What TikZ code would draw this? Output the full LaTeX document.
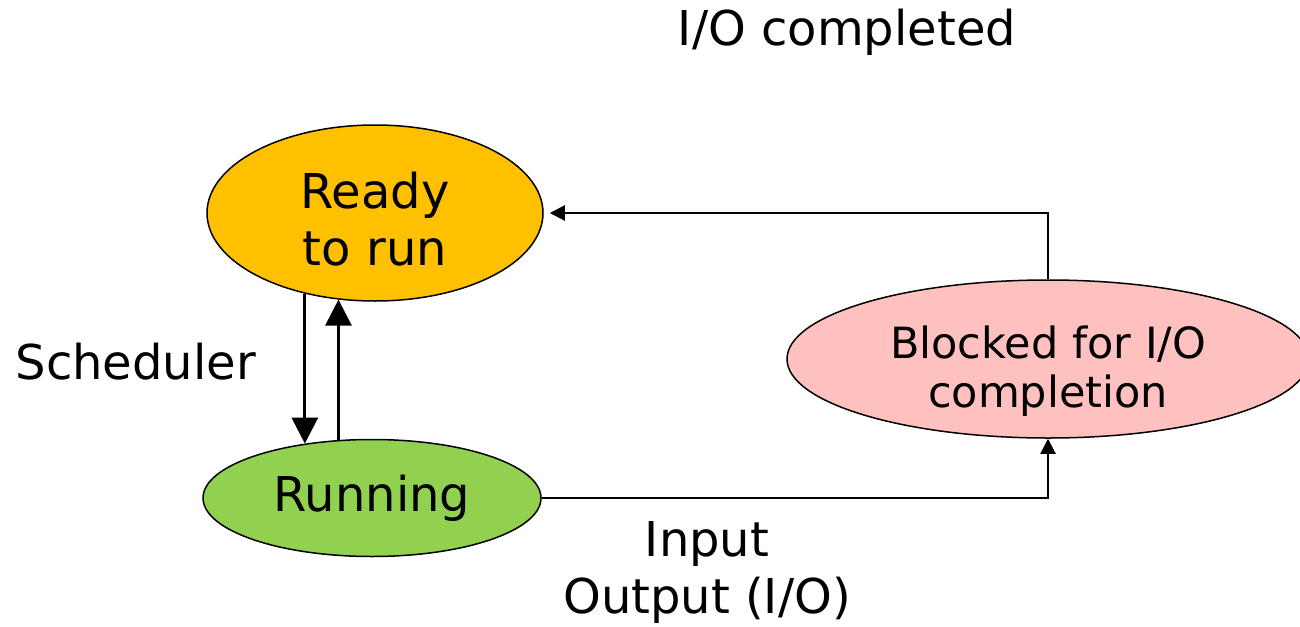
\documentclass[tikz,border=0pt]{standalone}
\usepackage{fontspec}
\setmainfont{DejaVu Sans}
\usetikzlibrary{shapes.geometric,arrows.meta}
\definecolor{readyc}{HTML}{FFC000}
\definecolor{runc}{HTML}{92D050}
\definecolor{blockc}{HTML}{FFC0C0}
\begin{document}
\begin{tikzpicture}[x=1pt,y=-1pt,
  state/.style={ellipse,draw=black,line width=1.5pt,inner sep=0pt,align=center},
  big/.style={font=\fontsize{48}{57}\selectfont},
  thickarr/.style={line width=3pt,-{Triangle[length=26pt,width=26pt]}},
  thinarr/.style={line width=2pt,-{Triangle[length=15pt,width=15pt]}}]
\useasboundingbox (0,0) rectangle (1300,626);
\node[state,fill=readyc,minimum width=336pt,minimum height=176pt] (ready) at (375,213) {};
\node[big,align=center] (readyt) at ([yshift=-6pt]ready.center) {Ready\\to run};
\node[state,fill=runc,minimum width=338pt,minimum height=117pt,big] (running) at (372,498) {Running};
\node[state,fill=blockc,minimum width=522pt,minimum height=158pt] (blocked) at (1048,359) {};
\node[align=center,font=\fontsize{43}{49}\selectfont] (blockedt) at ([yshift=-12pt]blocked.center) {Blocked for I/O\\completion};
\draw[thickarr] (ready.229.3) -- (ready.229.3 |- running.141);
\draw[thickarr] (running.120.1) -- (running.120.1 |- ready.247.3);
\draw[thinarr] (running.east) -| (blocked.south);
\draw[thinarr,shorten >=6pt] (blocked.north) |- (ready.east);
\node[big,anchor=west] (sched) at (12,362) {Scheduler};
\node[big] (ioc) at (847,32) {I/O completed};
\node[big,align=center] (io) at (707,572) {Input\\Output (I/O)};
\end{tikzpicture}
\end{document}
